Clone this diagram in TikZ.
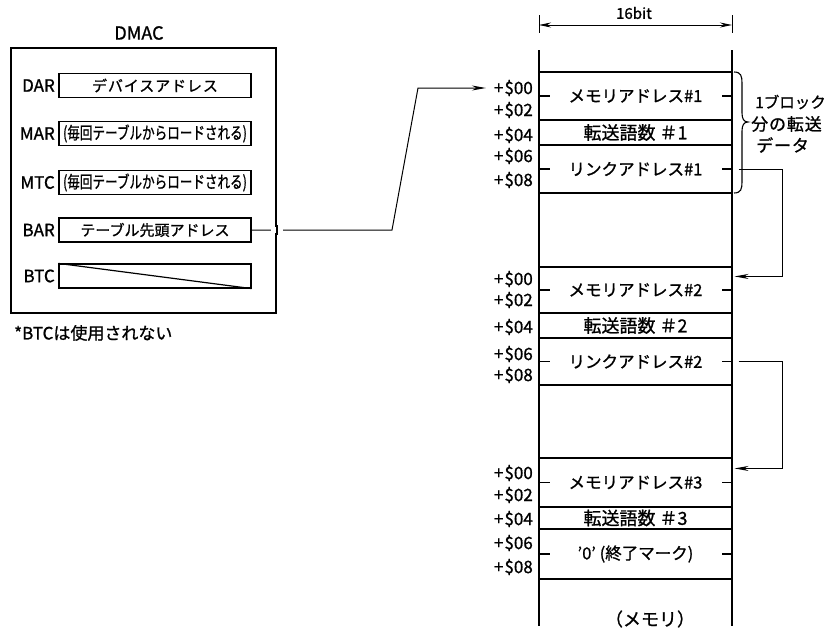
\documentclass[tikz,border=0pt]{standalone}
\usepackage{graphicx}
\usepackage{fontspec}
\setmainfont{Noto Sans CJK JP}[FakeBold=1]
\usetikzlibrary{arrows.meta,calc}
\begin{document}
\begin{tikzpicture}[x=1pt,y=-1pt,
  reg/.style={draw, line width=1.2pt, minimum width=192pt, minimum height=24pt, inner sep=0pt, font=\fontsize{15}{15}\selectfont},
  regl/.style={anchor=east, inner sep=0pt, font=\fontsize{17}{17}\selectfont},
  cell/.style={draw, line width=1.1pt, minimum width=193pt, inner sep=0pt, font=\fontsize{16.5}{16.5}\selectfont},
  off/.style={anchor=east, inner sep=0pt, font=\fontsize{17}{17}\selectfont},
  tick/.style={line width=1.1pt},
  lbl/.style={inner sep=0pt, font=\fontsize{17}{17}\selectfont},
  arr/.style={line width=1pt, -{Stealth[length=14pt,width=5pt]}}
]
\useasboundingbox (0,0) rectangle (828,632);

% DMAC
\node[draw, line width=2pt, minimum width=265pt, minimum height=265pt, inner sep=0pt] (dmac) at (143.5,180.5) {};
\node[lbl, font=\fontsize{18}{18}\selectfont] (dmact) at (139,33) {DMAC};
\node[reg] (dar) at (155,85.5) {\addfontfeature{LetterSpace=6}デバイスアドレス};
\node[reg] (mar) at (155,133.5) {\scalebox{0.74}[1]{\fontsize{17}{17}\selectfont (毎回テーブルからロードされる)}};
\node[reg] (mtc) at (155,182.5) {\scalebox{0.74}[1]{\fontsize{17}{17}\selectfont (毎回テーブルからロードされる)}};
\node[reg] (bar) at (155,230) {テーブル先頭アドレス};
\node[reg] (btc) at (155,276) {};
\draw[line width=1.2pt] (btc.north west) -- (btc.south east);
\node[regl] (darl) at (55,85.5) {DAR};
\node[regl] (marl) at (55,133.5) {MAR};
\node[regl] (mtcl) at (55,182.5) {MTC};
\node[regl] (barl) at (55,230) {BAR};
\node[regl] (btcl) at (55,276) {BTC};
\node[lbl, anchor=west] (note) at (14,333) {*BTCは使用されない};

% memory column
\coordinate (memtl) at (539,50);
\coordinate (membl) at (539,626);
\coordinate (memtr) at (732,50);
\coordinate (membr) at (732,626);
\draw[line width=1.1pt] (memtl) -- (membl);
\draw[line width=1.1pt] (memtr) -- (membr);

% 16bit
\coordinate (w1) at (539,15);
\coordinate (w2) at (732,15);
\draw[line width=1pt] (w1) -- ++(0,18);
\draw[line width=1pt] (w2) -- ++(0,18);
\draw[line width=1pt, {Stealth[length=12pt,width=5pt]}-{Stealth[length=12pt,width=5pt]}] ($(w1)+(0,10)$) -- ($(w2)+(0,10)$);
\node[inner sep=0pt, font=\fontsize{15}{15}\selectfont] (bits) at (634,13) {16bit};

% block 1
\node[cell, minimum height=48pt] (m1) at (635.5,96) {メモリアドレス\#1};
\node[cell, minimum height=25pt, font=\fontsize{18}{18}\selectfont] (c1) at (635.5,132.5) {転送語数 ＃1};
\node[cell, minimum height=48pt] (l1) at (635.5,169) {リンクアドレス\#1};
% block 2
\node[cell, minimum height=46pt] (m2) at (635.5,290) {メモリアドレス\#2};
\node[cell, minimum height=25pt, font=\fontsize{18}{18}\selectfont] (c2) at (635.5,325.5) {転送語数 ＃2};
\node[cell, minimum height=47pt] (l2) at (635.5,361.5) {リンクアドレス\#2};
% block 3
\node[cell, minimum height=49pt] (m3) at (635.5,482.5) {メモリアドレス\#3};
\node[cell, minimum height=22pt, font=\fontsize{18}{18}\selectfont] (c3) at (635.5,518) {転送語数 ＃3};
\node[cell, minimum height=50pt] (z3) at (635.5,554) {'0' (終了マーク)};

\foreach \n in {m1,l1,m2,l2,m3,z3}{
  \draw[tick] (\n.west) -- ++(12,0);
  \draw[tick] (\n.east) -- ++(-11,0);
}

% offsets
\node[off] (a00) at (533,88) {+\kern1pt\$00};
\node[off] (a02) at (533,110) {+\kern1pt\$02};
\node[off] (a04) at (533,135) {+\kern1pt\$04};
\node[off] (a06) at (533,156) {+\kern1pt\$06};
\node[off] (a08) at (533,180) {+\kern1pt\$08};
\node[off] (b00) at (533,279) {+\kern1pt\$00};
\node[off] (b02) at (533,300) {+\kern1pt\$02};
\node[off] (b04) at (533,327) {+\kern1pt\$04};
\node[off] (b06) at (533,354) {+\kern1pt\$06};
\node[off] (b08) at (533,375) {+\kern1pt\$08};
\node[off] (d00) at (533,473) {+\kern1pt\$00};
\node[off] (d02) at (533,495) {+\kern1pt\$02};
\node[off] (d04) at (533,519) {+\kern1pt\$04};
\node[off] (d06) at (533,543) {+\kern1pt\$06};
\node[off] (d08) at (533,567) {+\kern1pt\$08};

% brace
\draw[line width=1.1pt] (734,72) .. controls (741,72) and (742,76) .. (742,83) -- (742,113)
  .. controls (742,119) and (744,122) .. (748,122)
  .. controls (744,122) and (742,125) .. (742,131) -- (742,182)
  .. controls (742,189) and (741,193) .. (734,193);
\node[lbl, anchor=west, font=\fontsize{15.5}{15.5}\selectfont] (bt1) at (755,102) {1ブロック};
\node[lbl, anchor=west] (bt2) at (751,124) {\addfontfeature{LetterSpace=5}分の転送};
\node[lbl, anchor=west] (bt3) at (756,145) {\addfontfeature{LetterSpace=5}データ};

% BAR pointer
\coordinate (k1) at (392,230);
\coordinate (k2) at (418,88);
\coordinate (ptr) at ($(a00.west)+(-8,0)$);
\draw[arr] (bar.east) -- (k1) -- (k2) -- (ptr);
\fill[white] ($(dmac.east |- bar.east)+(-6,-3)$) rectangle ($(dmac.east |- bar.east)+(6,3)$);
\draw[line width=2pt] ($(dmac.east |- bar.east)+(0,-5)$) -- ($(dmac.east |- bar.east)+(0,5)$);

% link arrows
\draw[arr] ($(l1.east)+(6,0)$) -- ++(44,0) |- ($(m2.north east)+(2,10)$);
\draw[arr] ($(l2.east)+(6,0)$) -- ++(44,0) |- ($(m3.north east)+(2,11)$);

\node[inner sep=0pt, font=\fontsize{18}{18}\selectfont] (memlbl) at (650,619) {（メモリ）};
\end{tikzpicture}
\end{document}
